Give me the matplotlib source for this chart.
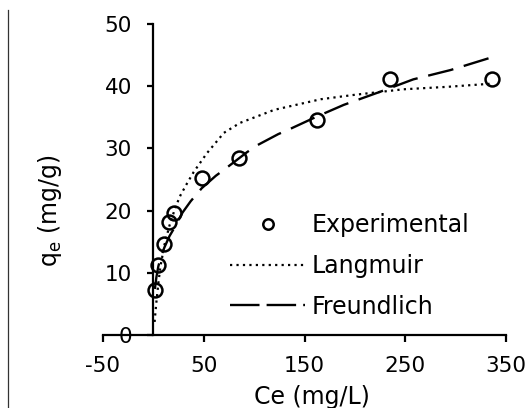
import matplotlib
matplotlib.use("Agg")
import matplotlib.pyplot as plt
from matplotlib.lines import Line2D

# Experimental data
ce_exp = [2, 5, 11, 16, 20, 48, 85, 162, 235, 336]
qe_exp = [7.2, 11.3, 14.7, 18.2, 19.6, 25.2, 28.5, 34.6, 41.1, 41.1]

# Langmuir model curve
ce_lang = [1.2, 2.8, 5, 7, 11, 16, 22, 27, 33.5, 40, 53, 70, 86, 120, 166, 199, 248, 292, 335]
qe_lang = [2.1, 5.0, 8.4, 11.0, 14.5, 17.6, 20.6, 22.5, 24.4, 26.2, 29.2, 32.5, 34.1, 36.2, 37.9, 38.6, 39.5, 39.9, 40.4]

# Freundlich model curve
ce_freu = [1.5, 3, 5, 8, 11, 16, 20, 29, 37, 48, 62, 72, 93, 103, 124, 134, 162, 189, 225, 258, 295, 335]
qe_freu = [7.4, 9.3, 11.1, 12.8, 14.1, 15.9, 17.0, 19.7, 21.5, 23.6, 25.6, 26.8, 29.4, 30.5, 32.3, 33.0, 35.1, 37.0, 39.1, 41.1, 42.6, 44.6]

xticks = [-50, 50, 150, 250, 350]
yticks = [0, 10, 20, 30, 40, 50]

plt.rcParams['font.family'] = ['DejaVu Sans']
plt.rcParams['axes.unicode_minus'] = False
fig = plt.figure(figsize=(5.27, 4.08), dpi=100)
ax = fig.add_axes([103/527, (408-335)/408, 403/527, 311/408])

h_lang, = ax.plot(ce_lang, qe_lang, color='black', lw=1.6, dashes=(1, 1.9), label='Langmuir', zorder=2)
ax.plot(ce_freu, qe_freu, color='black', lw=1.7, dashes=(11, 4.6), zorder=2)
h_exp, = ax.plot(ce_exp, qe_exp, linestyle='none', marker='o', markersize=10, mfc='none',
                 mec='black', mew=1.8, label='Experimental', zorder=3)
h_freu = Line2D([], [], color='black', lw=1.7, dashes=(12.5, 3))

ax.set_xlim(-50, 350)
ax.set_ylim(0, 50)
ax.set_xticks(xticks)
ax.set_yticks(yticks)

for s in ['top', 'right']:
    ax.spines[s].set_visible(False)
ax.spines['left'].set_position(('data', 0))
ax.spines['left'].set_linewidth(1.6)
ax.spines['bottom'].set_linewidth(1.6)

ax.tick_params(axis='x', direction='out', length=5, width=1.6, labelsize=15.5, pad=10)
ax.tick_params(axis='y', direction='out', length=4.5, width=1.6, labelsize=15.5, pad=11)

ax.set_xlabel('Ce (mg/L)', fontsize=17)
ax.set_ylabel('q$_\\mathregular{e}$ (mg/g)', fontsize=17)
ax.xaxis.set_label_coords(0.519, -0.161)
ax.yaxis.set_label_coords(-0.098, 0.40)

leg = ax.legend([h_exp, h_lang, h_freu], ['Experimental', 'Langmuir', 'Freundlich'],
                loc='center left', bbox_to_anchor=((218-103)/403, (335-266)/311),
                frameon=False, fontsize=17, handlelength=3.2, handletextpad=0.25,
                labelspacing=0.7, markerscale=0.75, borderpad=0)

fig.add_artist(Line2D([8/527, 8/527], [0, (408-10)/408], transform=fig.transFigure,
                      color='#333333', lw=0.9))

fig.savefig('out.png', dpi=100)
